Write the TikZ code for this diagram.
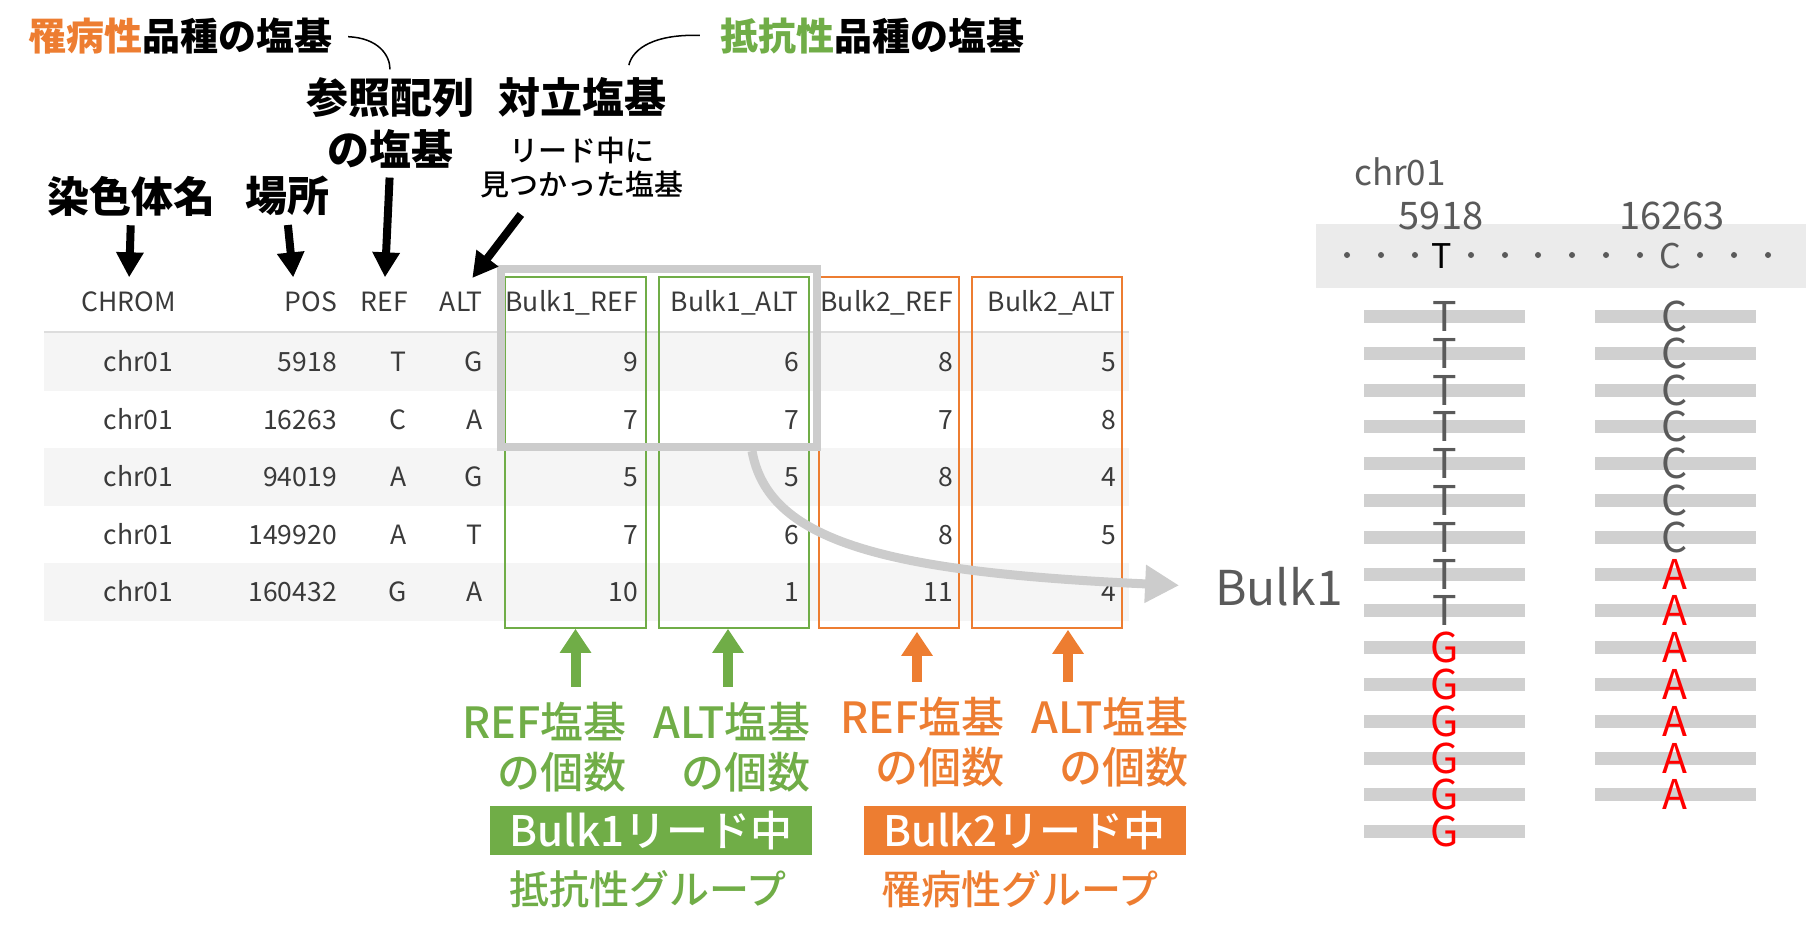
\documentclass[tikz,border=0pt]{standalone}
\usepackage{fontspec}
\setmainfont{Noto Sans CJK JP}
\IfFontExistsTF{Noto Sans CJK JP Medium}{\newfontfamily\jpmed{Noto Sans CJK JP Medium}}{\newcommand\jpmed{\mdseries}}
\usetikzlibrary{arrows.meta,positioning}

\definecolor{susorange}{HTML}{ED7D31}
\definecolor{resgreen}{HTML}{70AD47}
\definecolor{tabtext}{HTML}{3A3A3A}
\definecolor{rowshade}{HTML}{F5F5F5}
\definecolor{rulegray}{HTML}{DDDDDD}
\definecolor{readgray}{HTML}{D0D0D0}
\definecolor{bandgray}{HTML}{EBEBEB}
\definecolor{igvtext}{HTML}{5A5A5A}
\definecolor{pickgray}{HTML}{CCCCCC}

\newcommand{\fsz}[1]{\fontsize{#1}{#1}\selectfont}

\begin{document}
\begin{tikzpicture}[x=1pt, y=-1pt,
        cell/.style = {font=\fsz{26.5}, text=tabtext, inner sep=0pt, text height=19pt, text depth=0pt, anchor=east},
        note/.style = {font=\fontsize{42}{52}\selectfont\bfseries, inner sep=0pt, align=center},
        subnote/.style = {font=\fontsize{29}{34}\selectfont\jpmed, inner sep=0pt, align=center},
        pointer/.style = {line width=8pt, -{Triangle[length=25pt, width=26pt]}},
        callout/.style = {line width=1.5pt},
        colbox/.style = {draw, line width=1.6pt, minimum height=351pt, inner sep=0pt},
        countlbl/.style = {font=\fontsize{43}{50}\selectfont\jpmed, inner sep=0pt, align=right, anchor=east},
        uparrow/.style = {line width=10pt, -{Triangle[length=24pt, width=30pt]}},
        groupbox/.style = {font=\fsz{42}\jpmed, text=white, minimum width=322pt, minimum height=49pt, inner sep=0pt},
        grouplbl/.style = {font=\fsz{40}\jpmed, inner sep=0pt},
        readbar/.style = {fill=readgray, minimum width=161pt, minimum height=13pt, inner sep=0pt},
        base/.style = {font=\fsz{41}, text=igvtext, inner sep=0pt, text height=30pt, text depth=0pt},
        altbase/.style = {base, text=red}
    ]
        \useasboundingbox (0,0) rectangle (1806,935);

        % table background
        \fill[rowshade] (44,333) rectangle (1129,391);
        \fill[rowshade] (44,448) rectangle (1129,506);
        \fill[rowshade] (44,563) rectangle (1129,621);
        \draw[rulegray, line width=2pt] (44,332) -- (1129,332);

        % header row
        \node[cell] (hchrom) at (176,302) {CHROM};
        \node[cell] (hpos) at (337,302) {POS};
        \node[cell] (href) at (408,302) {REF};
        \node[cell] (halt) at (483,302) {ALT};
        \node[cell] (hbaref) at (638,302) {Bulk1\_REF};
        \node[cell] (hbaalt) at (799,302) {Bulk1\_ALT};
        \node[cell] (hbbref) at (953,302) {Bulk2\_REF};
        \node[cell] (hbbalt) at (1116,302) {Bulk2\_ALT};

        % data rows
        \foreach \ry/\posn/\refb/\altb/\nA/\nB/\nC/\nD [count=\i] in {
                362/5918/T/G/9/6/8/5, 419.5/16263/C/A/7/7/7/8, 477/94019/A/G/5/5/8/4,
                534.5/149920/A/T/7/6/8/5, 592/160432/G/A/10/1/11/4} {
                \node[cell] (chrom\i) at (173,\ry) {chr01};
                \node[cell] (pos\i) at (337,\ry) {\posn};
                \node[cell] (ref\i) at (407,\ry) {\refb};
                \node[cell] (alt\i) at (483,\ry) {\altb};
                \node[cell] (baref\i) at (638,\ry) {\nA};
                \node[cell] (baalt\i) at (799,\ry) {\nB};
                \node[cell] (bbref\i) at (953,\ry) {\nC};
                \node[cell] (bbalt\i) at (1116,\ry) {\nD};
        }

        % column boxes
        \node[colbox, draw=resgreen, minimum width=141pt] (boxbaref) at (575.5,452.5) {};
        \node[colbox, draw=resgreen, minimum width=150pt] (boxbaalt) at (734,452.5) {};
        \node[colbox, draw=susorange, minimum width=140pt] (boxbbref) at (889,452.5) {};
        \node[colbox, draw=susorange, minimum width=150pt] (boxbbalt) at (1047,452.5) {};
        \node[draw=pickgray, line width=8pt, minimum width=316pt, minimum height=178pt, inner sep=0pt] (pickbox) at (659,358) {};

        % labels above the table
        \node[font=\fsz{38}\bfseries, inner sep=0pt] (lblsus) at (180,36) {{\color{susorange}罹病性}品種の塩基};
        \node[font=\fsz{38}\bfseries, inner sep=0pt] (lblres) at (872,36) {{\color{resgreen}抵抗性}品種の塩基};
        \node[note] (lblref) at (390,123) {参照配列\\の塩基};
        \node[note] (lblalt) at (582,97) {対立塩基};
        \node[subnote, below=20pt of lblalt] (lblaltsub) {リード中に\\見つかった塩基};
        \node[note] (lblchrom) at (131,196) {染色体名};
        \node[note] (lblpos) at (287,196) {場所};

        \draw[callout, shorten <=16pt, shorten >=8pt] (lblsus.east) .. controls (378,38) and (390,55) .. (lblref.north);
        \draw[callout, shorten <=20pt, shorten >=12pt] (lblres.west) .. controls (655,34) and (633,48) .. ([xshift=44pt]lblalt.north);
        \draw[pointer, shorten <=9pt, shorten >=15pt] (lblchrom.south) -- (hchrom.north);
        \draw[pointer, shorten <=9pt, shorten >=15pt] (lblpos.south) -- ([xshift=-16pt]hpos.north);
        \draw[pointer, shorten <=9pt, shorten >=15pt] (lblref.south) -- (href.north);
        \draw[pointer, shorten <=20pt, shorten >=18pt] ([xshift=-49pt]lblaltsub.south) -- (halt.north);

        % labels below the table
        \node[countlbl, text=resgreen] (lblbaref) at (627,747) {REF塩基\\の個数};
        \node[countlbl, text=resgreen] (lblbaalt) at (811,747) {ALT塩基\\の個数};
        \node[countlbl, text=susorange] (lblbbref) at (1005,742) {REF塩基\\の個数};
        \node[countlbl, text=susorange] (lblbbalt) at (1189,742) {ALT塩基\\の個数};
        \draw[uparrow, resgreen, shorten <=15pt] (boxbaref.south |- lblbaref.north) -- (boxbaref.south);
        \draw[uparrow, resgreen, shorten <=15pt] ([xshift=-6pt]boxbaalt.south |- lblbaalt.north) -- ([xshift=-6pt]boxbaalt.south);
        \draw[uparrow, susorange, shorten <=15pt, shorten >=3pt] ([xshift=28pt]boxbbref.south |- lblbbref.north) -- ([xshift=28pt]boxbbref.south);
        \draw[uparrow, susorange, shorten <=15pt, shorten >=1pt] ([xshift=21pt]boxbbalt.south |- lblbbalt.north) -- ([xshift=21pt]boxbbalt.south);

        \node[groupbox, fill=resgreen] (grpres) at (651,830.5) {Bulk1リード中};
        \node[groupbox, fill=susorange] (grpsus) at (1024.5,830.5) {Bulk2リード中};
        \node[grouplbl, text=resgreen] (lblres2) at (648,889) {抵抗性グループ};
        \node[grouplbl, text=susorange] (lblsus2) at (1020,889) {罹病性グループ};

        % reads of Bulk1
        \node[font=\fsz{48}, text=igvtext, inner sep=0pt] (bulklbl) at (1279,587) {Bulk1};
        \draw[pickgray, line width=9pt, -{Triangle[length=34pt, width=36pt]}, shorten >=36pt] (pickbox.-45) .. controls (768,540) and (880,572) .. (bulklbl.west);

        \fill[bandgray] (1316,224) rectangle (1806,288);
        \node[font=\fsz{35}, text=igvtext, inner sep=0pt] (chrlbl) at (1400,172) {chr01};
        \node[font=\fsz{38}, text=igvtext, inner sep=0pt] (poslbla) at (1441,216) {5918};
        \node[font=\fsz{38}, text=igvtext, inner sep=0pt] (poslblb) at (1672,216) {16263};
        \foreach \x in {1347,1381,1415,1471,1505,1538,1572,1606,1640,1700,1734,1768}
                \fill[igvtext] (\x,255) circle (3pt);
        \node[base, font=\fsz{34}, text height=25pt, text=black] (refT) at (1442,256) {T};
        \node[base, font=\fsz{34}, text height=25pt] (refC) at (1670,256) {C};

        \foreach \k in {0,...,14} {
                \pgfmathsetmacro\ry{316.5+36.8*\k}
                \node[readbar] (rda\k) at (1444.5,\ry) {};
                \ifnum\k<9 \node[base] (bsa\k) at (rda\k) {T}; \else \node[altbase] (bsa\k) at (rda\k) {G}; \fi
        }
        \foreach \k in {0,...,13} {
                \pgfmathsetmacro\ry{316.5+36.8*\k}
                \node[readbar] (rdb\k) at (1675,\ry) {};
                \ifnum\k<7 \node[base] (bsb\k) at (rdb\k) {C}; \else \node[altbase] (bsb\k) at (rdb\k) {A}; \fi
        }
\end{tikzpicture}
\end{document}
